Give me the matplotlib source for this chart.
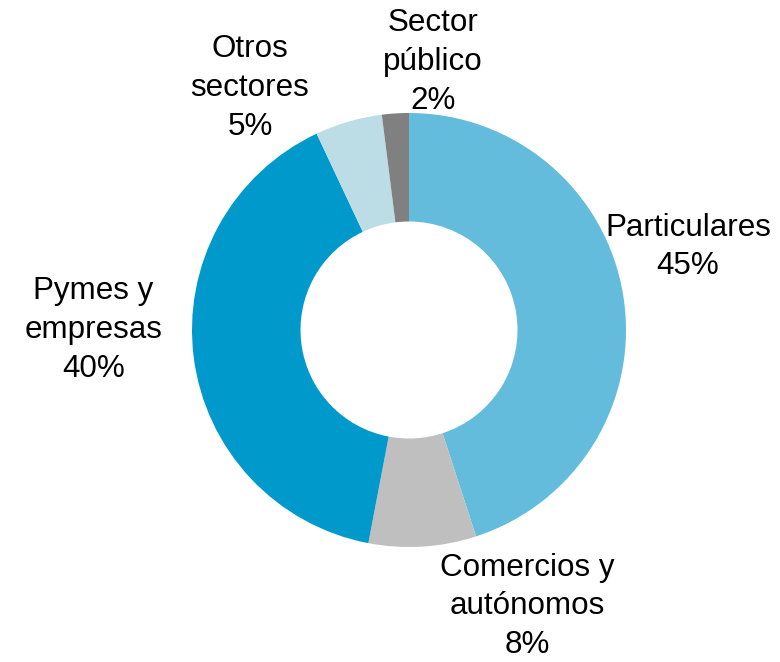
import matplotlib
matplotlib.use("Agg")
import matplotlib.pyplot as plt

# Distribución por segmento de cliente
categories = ["Particulares", "Comercios y\nautónomos", "Pymes y\nempresas", "Otros\nsectores", "Sector\npúblico"]
values = [45, 8, 40, 5, 2]
colors = ["#64BCDC", "#BFBFBF", "#0099CC", "#BCDCE6", "#808080"]

# Posición de cada etiqueta (en radios del anillo)
label_pos = [(1.286, 0.382), (0.544, -1.274), (-1.455, 0.0), (-0.733, 1.115), (0.110, 1.236)]

plt.rcParams["font.family"] = ["Liberation Sans", "DejaVu Sans"]

fig = plt.figure(figsize=(7.8, 6.62), dpi=100)
ax = fig.add_axes([0, 0, 1, 1])

ax.pie(values, colors=colors, startangle=90, counterclock=False,
       radius=1.0, wedgeprops=dict(width=0.5, linewidth=0))

for name, v, (x, y) in zip(categories, values, label_pos):
    ax.text(x, y, f"{name}\n{v}%", ha="center", va="center",
            fontsize=22.6, linespacing=1.38, color="black")

ax.set_xlim(-409 / 217, (780 - 409) / 217)
ax.set_ylim(-332 / 217, 330 / 217)
ax.set_aspect("auto")
ax.axis("off")

fig.savefig("out.png", dpi=100, facecolor="white")
